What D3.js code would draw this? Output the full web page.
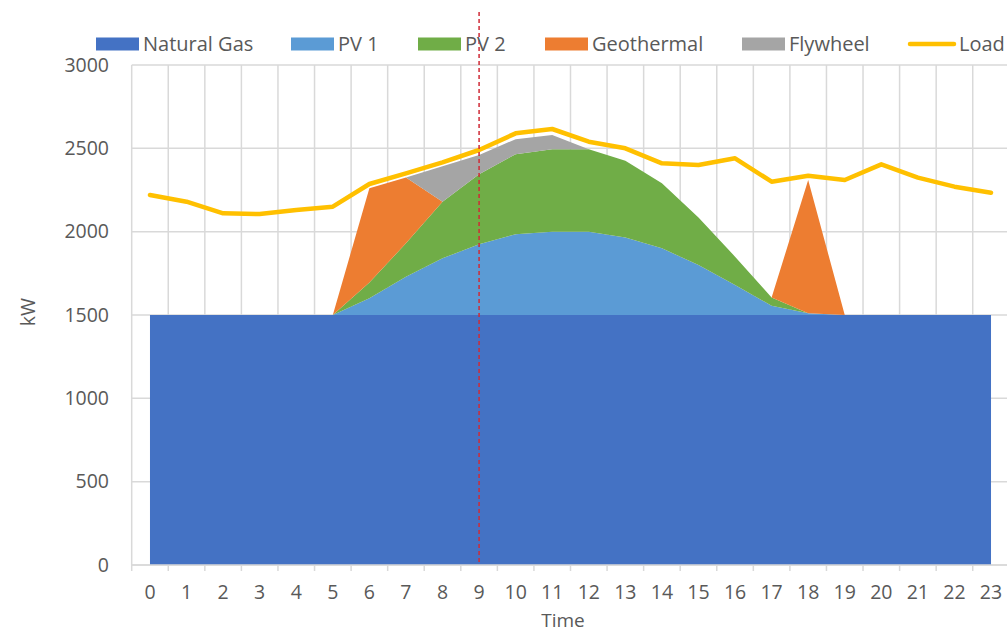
<!DOCTYPE html>
<html>
<head>
<meta charset="utf-8">
<script src="https://cdn.jsdelivr.net/npm/d3@7/dist/d3.min.js"></script>
<style>
  html, body { margin: 0; padding: 0; background: #fff; }
  svg text { font-family: "Open Sans", "Liberation Sans", sans-serif; fill: #595959; }
</style>
</head>
<body>
<svg id="chart" width="1007" height="634"></svg>
<script>
// Hourly generation mix (kW) stacked against the load curve
const hours       = [0,1,2,3,4,5,6,7,8,9,10,11,12,13,14,15,16,17,18,19,20,21,22,23];
const naturalGas  = [1500,1500,1500,1500,1500,1500,1500,1500,1500,1500,1500,1500,1500,1500,1500,1500,1500,1500,1500,1500,1500,1500,1500,1500];
const pv1         = [0,0,0,0,0,0,100,230,340,425,485,500,500,465,400,300,180,55,10,0,0,0,0,0];
const pv2         = [0,0,0,0,0,0,95,200,340,420,480,495,495,460,390,285,170,50,0,0,0,0,0,0];
const geothermal  = [0,0,0,0,0,0,565,395,0,0,0,0,0,0,0,0,0,0,800,0,0,0,0,0];
const flywheel    = [0,0,0,0,0,0,0,0,212,115,90,85,0,0,0,0,0,0,0,0,0,0,0,0];
const load        = [2220,2180,2110,2106,2130,2150,2286,2350,2416,2490,2590,2616,2540,2500,2410,2400,2440,2300,2336,2310,2404,2324,2270,2234];
const yTicks      = [0,500,1000,1500,2000,2500,3000];
const currentHour = 9;

const seriesNames  = ["Natural Gas","PV 1","PV 2","Geothermal","Flywheel"];
const seriesData   = [naturalGas, pv1, pv2, geothermal, flywheel];
const seriesColors = ["#4472c4","#5b9bd5","#70ad47","#ed7d31","#a5a5a5"];
const loadColor = "#ffc000";
const gridColor = "#d9d9d9";

const rows = hours.map((h, i) => {
  const r = { hour: h };
  seriesNames.forEach((n, k) => { r[n] = seriesData[k][i]; });
  return r;
});

const svg = d3.select("#chart");
const plot = { left: 131.7, right: 1009.3, top: 65, bottom: 565 };

const xBand = d3.scaleBand().domain(hours).range([plot.left, plot.right]).padding(0);
const xc = h => xBand(h) + xBand.bandwidth() / 2;
const y = d3.scaleLinear().domain([0, 3000]).range([plot.bottom, plot.top]);

// horizontal gridlines
svg.append("g").selectAll("line").data(yTicks).join("line")
  .attr("x1", plot.left).attr("x2", plot.right)
  .attr("y1", d => y(d)).attr("y2", d => y(d))
  .attr("stroke", gridColor).attr("stroke-width", 1.5);

// vertical gridlines at category boundaries
const bounds = hours.map(h => xBand(h)).concat([plot.right]);
svg.append("g").selectAll("line").data(bounds).join("line")
  .attr("x1", d => d).attr("x2", d => d)
  .attr("y1", plot.top).attr("y2", plot.bottom)
  .attr("stroke", gridColor).attr("stroke-width", 1.5);

// stacked areas
const stack = d3.stack().keys(seriesNames);
const layers = stack(rows);
const area = d3.area()
  .x(d => xc(d.data.hour))
  .y0(d => y(d[0]))
  .y1(d => y(d[1]));

svg.append("g").selectAll("path").data(layers).join("path")
  .attr("d", area)
  .attr("fill", (d, i) => seriesColors[i]);

// x axis line and ticks
svg.append("line")
  .attr("x1", plot.left).attr("x2", plot.right)
  .attr("y1", plot.bottom).attr("y2", plot.bottom)
  .attr("stroke", gridColor).attr("stroke-width", 1.5);
svg.append("g").selectAll("line").data(bounds).join("line")
  .attr("x1", d => d).attr("x2", d => d)
  .attr("y1", plot.bottom).attr("y2", plot.bottom + 6)
  .attr("stroke", gridColor).attr("stroke-width", 1.5);

// load line
const line = d3.line().x((d, i) => xc(hours[i])).y(d => y(d));
svg.append("path")
  .datum(load)
  .attr("d", line)
  .attr("fill", "none")
  .attr("stroke", loadColor)
  .attr("stroke-width", 4.5)
  .attr("stroke-linejoin", "round")
  .attr("stroke-linecap", "round");

// current-hour marker
svg.append("line")
  .attr("x1", xc(currentHour)).attr("x2", xc(currentHour))
  .attr("y1", 12).attr("y2", plot.bottom)
  .attr("stroke", "#cf2a36").attr("stroke-width", 1.5)
  .attr("stroke-dasharray", "4,3");

// y tick labels
svg.append("g").selectAll("text").data(yTicks).join("text")
  .attr("x", 109).attr("y", d => y(d))
  .attr("dy", "0.35em")
  .attr("text-anchor", "end")
  .attr("font-size", 19.5)
  .text(d => d);

// x tick labels
svg.append("g").selectAll("text").data(hours).join("text")
  .attr("x", d => xc(d)).attr("y", 592)
  .attr("dy", "0.35em")
  .attr("text-anchor", "middle")
  .attr("font-size", 19.5)
  .text(d => d);

// axis titles
svg.append("text")
  .attr("x", 563).attr("y", 620).attr("dy", "0.35em")
  .attr("text-anchor", "middle").attr("font-size", 19)
  .text("Time");
svg.append("text")
  .attr("transform", "translate(28,312) rotate(-90)")
  .attr("dy", "0.35em")
  .attr("text-anchor", "middle").attr("font-size", 19.5)
  .text("kW");

// legend
const legendItems = [
  { name: "Natural Gas", x: 96,  color: seriesColors[0], kind: "rect" },
  { name: "PV 1",        x: 291, color: seriesColors[1], kind: "rect" },
  { name: "PV 2",        x: 418, color: seriesColors[2], kind: "rect" },
  { name: "Geothermal",  x: 545, color: seriesColors[3], kind: "rect" },
  { name: "Flywheel",    x: 742, color: seriesColors[4], kind: "rect" },
  { name: "Load",        x: 909, color: loadColor,       kind: "line" }
];
const lg = svg.append("g").selectAll("g").data(legendItems).join("g")
  .attr("transform", d => `translate(${d.x},44)`);
lg.filter(d => d.kind === "rect").append("rect")
  .attr("x", 0).attr("y", -6.5).attr("width", 43).attr("height", 13)
  .attr("fill", d => d.color);
lg.filter(d => d.kind === "line").append("line")
  .attr("x1", 1).attr("x2", 45).attr("y1", 0).attr("y2", 0)
  .attr("stroke", d => d.color).attr("stroke-width", 4.5)
  .attr("stroke-linecap", "round");
lg.append("text")
  .attr("x", d => d.kind === "rect" ? 47 : 50)
  .attr("y", 0).attr("dy", "0.35em")
  .attr("font-size", 20)
  .text(d => d.name);
</script>
</body>
</html>
